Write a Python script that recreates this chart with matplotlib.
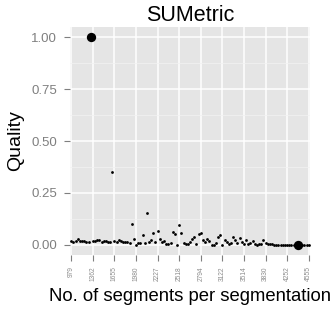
import matplotlib
matplotlib.use("Agg")
import matplotlib.pyplot as plt
import numpy as np

# quality per segmentation (discrete x axis, one value per category)
quality = [
    0.018, 0.012, 0.016, 0.029, 0.018, 0.018, 0.016, 0.015, 0.012, 1.00,
    0.016, 0.018, 0.021, 0.021, 0.015, 0.016, 0.018, 0.013, 0.014, 0.35,
    0.018, 0.012, 0.024, 0.016, 0.014, 0.015, 0.015, 0.010, 0.098, 0.026,
    0.000, 0.010, 0.008, 0.045, 0.008, 0.152, 0.012, 0.021, 0.056, 0.015,
    0.068, 0.029, 0.013, 0.018, 0.005, 0.003, 0.010, 0.060, 0.050, 0.000,
    0.094, 0.055, 0.010, 0.005, 0.005, 0.011, 0.029, 0.039, 0.005, 0.050,
    0.055, 0.020, 0.015, 0.029, 0.019, 0.000, 0.000, 0.008, 0.037, 0.048,
    0.000, 0.024, 0.015, 0.003, 0.010, 0.039, 0.021, 0.008, 0.031, 0.013,
    0.005, 0.021, 0.005, 0.006, 0.018, 0.005, 0.000, 0.005, 0.005, 0.021,
    0.008, 0.002, 0.003, 0.005, 0.000, 0.000, 0.000, 0.000, 0.000, 0.000,
    0.000, 0.000, 0.000, 0.000, 0.000, 0.000, 0.000, 0.000, 0.000, 0.000,
    0.000,
]
highlight = [9, 105]  # indices drawn with big points
tick_labels = ["979", "1362", "1655", "1980", "2227", "2518",
               "2794", "3122", "3514", "3830", "4252", "4555"]
tick_step = 10

plt.rcParams['font.family'] = ['Liberation Sans', 'DejaVu Sans']

fig = plt.figure(figsize=(3.36, 3.14), dpi=100)
ax = fig.add_axes([70 / 336, 1 - 255 / 314, 240 / 336, 228 / 314])
ax.set_facecolor("#E5E5E5")

x = np.arange(len(quality))
y = np.array(quality)
small = np.ones(len(x), dtype=bool)
small[highlight] = False
ax.scatter(x[small], y[small], s=4, c="black", linewidths=0, zorder=3)
ax.scatter(x[~small], y[~small], s=45, c="black", linewidths=0, zorder=3)

ax.set_xlim(-0.6, len(quality) - 1 + 0.6)
ax.set_ylim(-0.05, 1.05)

yt = [0, 0.25, 0.5, 0.75, 1.0]
ax.set_yticks(yt)
ax.set_yticklabels(["%.2f" % v for v in yt])
ax.set_yticks([0.125, 0.375, 0.625, 0.875], minor=True)
ax.set_xticks(np.arange(0, len(quality), tick_step))
ax.set_xticklabels(tick_labels, rotation=90)

ax.grid(True, which="major", color="white", linewidth=1.1, zorder=1)
ax.grid(True, which="minor", axis="y", color="#F2F2F2", linewidth=0.5, zorder=1)
ax.set_axisbelow(True)
for s in ax.spines.values():
    s.set_visible(False)

ax.tick_params(axis="y", which="major", colors="#7F7F7F", labelsize=9.5,
               length=4.5, width=0.8, pad=5)
ax.tick_params(axis="x", which="major", colors="#7F7F7F", labelsize=4.8,
               length=4, width=0.8, pad=4)
for lab in ax.get_xticklabels():
    lab.set_color("#8C8C8C")
ax.tick_params(which="minor", length=0)

ax.set_title("SUMetric", fontsize=15.5, pad=4)
ax.set_xlabel("No. of segments per segmentation", fontsize=13.3, labelpad=5)
ax.set_ylabel("Quality", fontsize=14, labelpad=5)

fig.savefig("out.png", dpi=100)
